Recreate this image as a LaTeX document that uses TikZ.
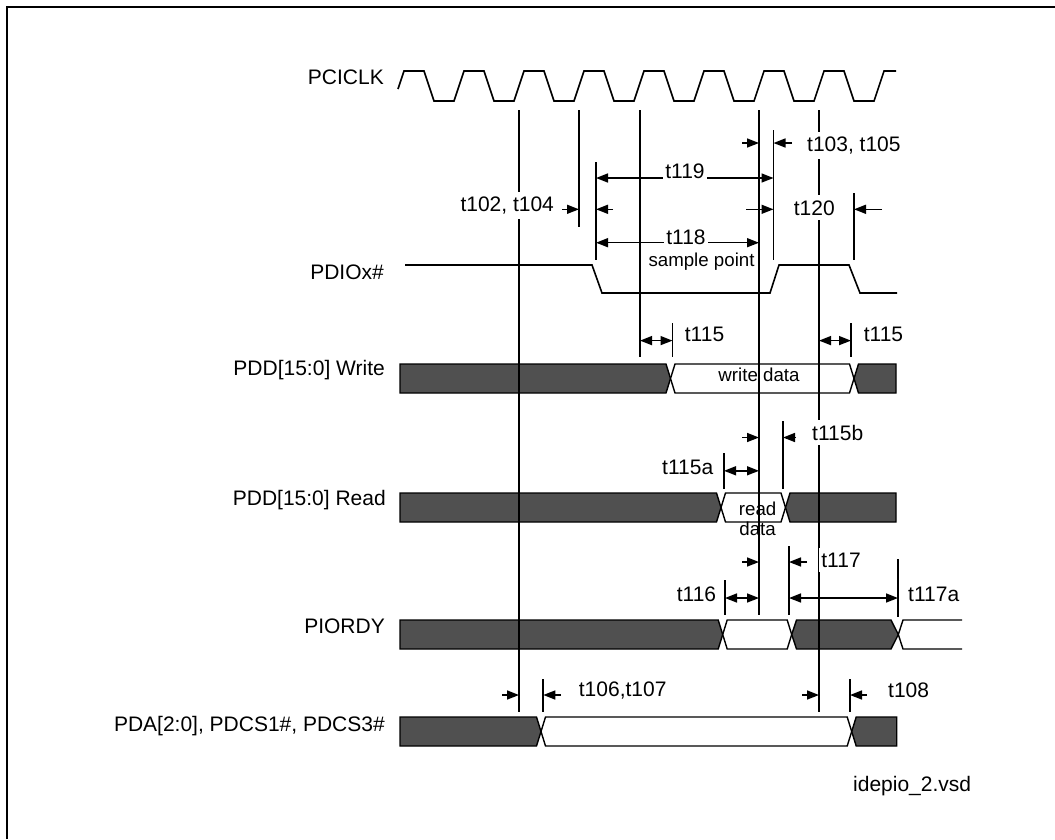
\documentclass[tikz,border=0pt]{standalone}
\usepackage{fontspec}
\setmainfont{Liberation Sans}
\usetikzlibrary{arrows.meta}
\definecolor{busdark}{RGB}{80,80,80}
\tikzset{
  vl/.style={line width=1.7pt},
  wave/.style={line width=1.6pt, line join=miter},
  dimr/.style={line width=1.5pt, -{Triangle[length=12pt,width=9pt]}},
  dimb/.style={line width=1.5pt, {Triangle[length=12pt,width=9pt]}-{Triangle[length=12pt,width=9pt]}},
  lbl/.style={font=\fontsize{21}{24}\selectfont, inner sep=0pt},
  sml/.style={font=\fontsize{18.7}{20.5}\selectfont, inner sep=0pt},
  tlab/.style={lbl, fill=white, inner xsep=2pt, inner ysep=5pt},
  darkbus/.style={fill=busdark, draw=black, line width=1.4pt, line join=miter},
  lightbus/.style={fill=white, draw=black, line width=1.4pt, line join=miter},
}
\begin{document}
\begin{tikzpicture}[x=1pt,y=-1pt]
\useasboundingbox (0,0) rectangle (1055,839);
\fill[white] (0,0) rectangle (1055,839);
\draw[line width=1.7pt] (7.3,839) -- (7.3,6.7) -- (1055,6.7);

% signal names
\node[lbl, anchor=base east] (nclk) at (384,84.3) {PCICLK};
\node[lbl, anchor=base east] (ndio) at (384,279) {PDIOx\#};
\node[lbl, anchor=base east] (nwr) at (385,375.5) {PDD[15:0] Write};
\node[lbl, anchor=base east] (nrd) at (386,505.5) {PDD[15:0] Read};
\node[lbl, anchor=base east] (nrdy) at (385,633) {PIORDY};
\node[lbl, anchor=base east] (npda) at (385,731) {PDA[2:0], PDCS1\#, PDCS3\#};

% clock
\draw[wave] (398,89) \foreach \k in {0,...,7} { -- ({404+60*\k},71) -- ({424+60*\k},71) -- ({434+60*\k},101) -- ({454+60*\k},101) } -- (884,71) -- (896,71);

% PDIOx#
\draw[wave] (405,265) -- (592,265) -- (602,293) -- (770,293) -- (779,265) -- (849,265) -- (860,293) -- (897,293);

% buses: write
\draw[darkbus] (400,364) -- (666,364) -- (670.5,378.5) -- (666,393) -- (400,393) -- cycle;
\draw[lightbus] (670.5,378.5) -- (675,364) -- (849.5,364) -- (854,378.5) -- (849.5,393) -- (675,393) -- cycle;
\draw[darkbus] (854,378.5) -- (858.5,364) -- (896,364) -- (896,393) -- (858.5,393) -- cycle;
% read
\draw[darkbus] (400,493) -- (716.5,493) -- (721,507.5) -- (716.5,522) -- (400,522) -- cycle;
\draw[lightbus] (721,507.5) -- (725.5,493) -- (781,493) -- (785.5,507.5) -- (781,522) -- (725.5,522) -- cycle;
\draw[darkbus] (785.5,507.5) -- (790,493) -- (896,493) -- (896,522) -- (790,522) -- cycle;
% PIORDY
\draw[darkbus] (400,620) -- (718.2,620) -- (722.7,634.5) -- (718.2,649) -- (400,649) -- cycle;
\draw[lightbus] (722.7,634.5) -- (727.2,620) -- (787.2,620) -- (791.7,634.5) -- (787.2,649) -- (727.2,649) -- cycle;
\draw[darkbus] (791.7,634.5) -- (796.5,620) -- (891,620) -- (898.3,634.5) -- (891,649) -- (796.5,649) -- cycle;
\draw[line width=1.4pt, line join=miter] (962,620) -- (903,620) -- (898.3,634.5) -- (903,649) -- (962,649);
% PDA
\draw[darkbus] (400,717) -- (536.5,717) -- (541,731.5) -- (536.5,746) -- (400,746) -- cycle;
\draw[lightbus] (541,731.5) -- (545.5,717) -- (847.2,717) -- (851.7,731.5) -- (847.2,746) -- (545.5,746) -- cycle;
\draw[darkbus] (851.7,731.5) -- (856.2,717) -- (896.7,717) -- (896.7,746) -- (856.2,746) -- cycle;

% clock reference lines
\draw[vl] (519,110) -- (519,712);
\draw[vl] (579,110) -- (579,227);
\draw[vl] (640,110) -- (640,357);
\draw[vl] (759,110) -- (759,615);
\draw[vl] (819,110) -- (819,712);
% edge markers
\draw[vl] (596,162) -- (596,260);
\draw[vl] (773.5,130) -- (773.5,260);
\draw[vl] (854,193) -- (854,260);
\draw[vl] (672.5,323) -- (672.5,357);
\draw[vl] (851,323) -- (851,357);
\draw[vl] (783,421) -- (783,489);
\draw[vl] (724,453) -- (724,489);
\draw[vl] (789,546) -- (789,615);
\draw[vl] (725,580) -- (725,615);
\draw[vl] (898,559) -- (898,617);
\draw[vl] (543.3,679) -- (543.3,712);
\draw[vl] (850,679) -- (850,712);

% dimension arrows
\draw[dimr] (742,143) -- (759,143);
\draw[dimr] (792,143) -- (773.5,143);
\draw[dimb] (596,178) -- (773.5,178);
\draw[dimr] (562,209.3) -- (579,209.3);
\draw[dimr] (613,209.3) -- (596,209.3);
\draw[dimr] (746,209.3) -- (773.5,209.3);
\draw[dimr] (882,209.3) -- (854,209.3);
\draw[dimb] (596,242.7) -- (759,242.7);
\draw[dimb] (640,340.6) -- (672.5,340.6);
\draw[dimb] (819,340.6) -- (851,340.6);
\draw[dimr] (742,437.5) -- (759,437.5);
\draw[dimr] (796,437.5) -- (783,437.5);
\draw[dimb] (724,470.8) -- (759,470.8);
\draw[dimr] (742,562) -- (759,562);
\draw[dimr] (807,562) -- (789,562);
\draw[dimb] (725,598) -- (759,598);
\draw[dimb] (789,598) -- (898,598);
\draw[dimr] (502,695) -- (519,695);
\draw[dimr] (561,695) -- (543.3,695);
\draw[dimr] (802,695) -- (819,695);
\draw[dimr] (867,695) -- (850,695);

% timing labels
\node[tlab, anchor=base west] (t103) at (805,151.7) {t103, t105};
\node[tlab, anchor=base] (t119) at (685,178) {t119};
\node[tlab, anchor=base west] (t102) at (458.3,211.7) {t102, t104};
\node[tlab, anchor=base west] (t120) at (791.7,215) {t120};
\node[tlab, anchor=base] (t118) at (686,244.5) {t118};
\node[sml, anchor=base west] (samp) at (648.3,266.5) {sample point};
\node[tlab, anchor=base west] (t115l) at (682.7,341) {t115};
\node[tlab, anchor=base west] (t115r) at (861.6,341) {t115};
\node[sml, anchor=base] (wdat) at (759,381) {write data};
\node[tlab, anchor=base west] (t115b) at (810,440) {t115b};
\node[tlab, anchor=base east] (t115a) at (715.4,474) {t115a};
\node[sml, anchor=base] (rd1) at (757.6,515.6) {read};
\node[sml, anchor=base] (rd2) at (757.6,535.5) {data};
\node[tlab, anchor=base west] (t117) at (819.2,567) {t117};
\node[tlab, anchor=base east] (t116) at (718.3,601) {t116};
\node[tlab, anchor=base west] (t117a) at (906,601) {t117a};
\node[tlab, anchor=base west] (t106) at (576.7,696) {t106,t107};
\node[tlab, anchor=base west] (t108) at (886,697) {t108};
\node[lbl, anchor=base west] (file) at (853,791.7) {idepio\_2.vsd};
\end{tikzpicture}
\end{document}
